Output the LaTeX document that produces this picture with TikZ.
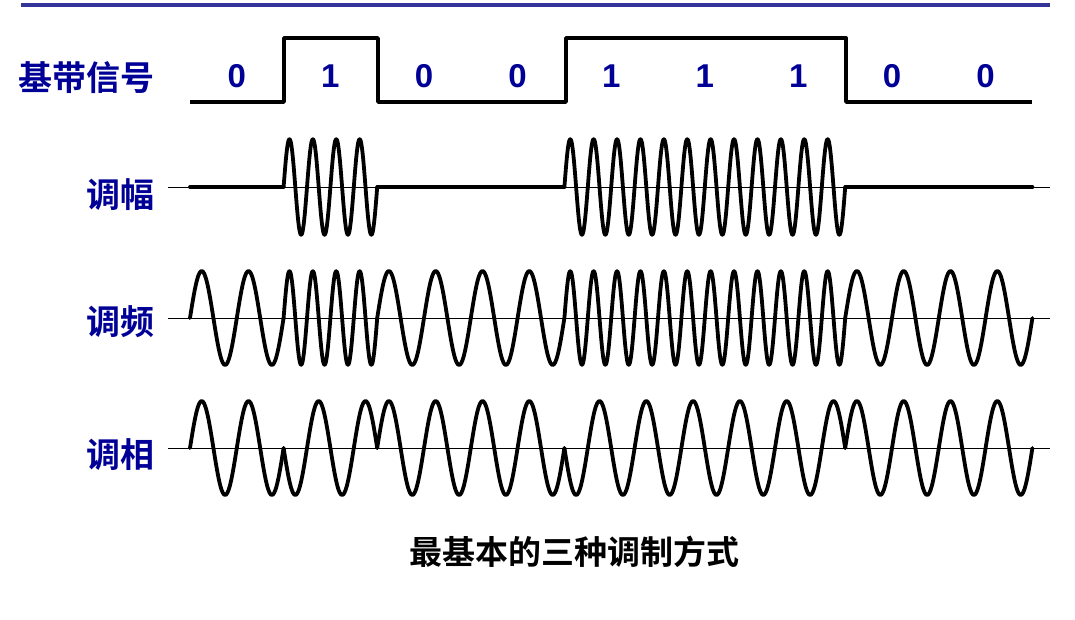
\documentclass[tikz,border=0pt]{standalone}
\usepackage{fontspec}
\setmainfont{Liberation Sans}
\newfontfamily\cjk{Noto Sans CJK SC}[BoldFont={Noto Sans CJK SC Bold}]
\definecolor{lblue}{RGB}{0,0,150}
\definecolor{topblue}{RGB}{51,51,153}
\begin{document}
\begin{tikzpicture}[x=1pt,y=-1pt,
  wave/.style={line width=3.8pt,line join=round,line cap=round},
  axisline/.style={line width=0.8pt},
  lbl/.style={text=lblue,font=\cjk\bfseries\fontsize{34}{34}\selectfont,anchor=east,inner sep=0},
  bit/.style={text=lblue,font=\bfseries\fontsize{33}{33}\selectfont,inner sep=0}]
\useasboundingbox (0,0) rectangle (1075,620);
\draw[topblue,line width=4pt] (21,5) -- (1050,5);
% labels
\node[lbl] (lb) at (155,78) {基带信号};
\node[lbl] (la) at (155,195) {调幅};
\node[lbl] (lf) at (155,322) {调频};
\node[lbl] (lp) at (155,455) {调相};
\node (cap) at (574,552) {\cjk\bfseries\fontsize{33}{33}\selectfont 最基本的三种调制方式};
% baselines
\foreach \y in {187,318,448} \draw[axisline] (168,\y) -- (1050,\y);
% bits
\def\w{93.6}
\foreach \b [count=\i from 0] in {0,1,0,0,1,1,1,0,0}{
  \pgfmathsetmacro\xa{190+\i*\w}
  \pgfmathsetmacro\xb{\xa+\w}
  \pgfmathsetmacro\xc{\xa+\w/2}
  \node[bit] (d\i) at (\xc,76) {\b};
  \ifnum\b=1
    \draw[wave] plot[domain=\xa:\xb,samples=121,smooth] (\x,{187-48*sin(1440*((\x-\xa)/\w))});
    \draw[wave] plot[domain=\xa:\xb,samples=121,smooth] (\x,{318-47*sin(1440*((\x-\xa)/\w))});
    \draw[wave] plot[domain=\xa:\xb,samples=81,smooth] (\x,{448+47*sin(720*((\x-\xa)/\w))});
  \else
    \draw[wave] (\xa,187) -- (\xb,187);
    \draw[wave] plot[domain=\xa:\xb,samples=81,smooth] (\x,{318-47*sin(720*((\x-\xa)/\w))});
    \draw[wave] plot[domain=\xa:\xb,samples=81,smooth] (\x,{448-47*sin(720*((\x-\xa)/\w))});
  \fi
}
% baseband
\draw[wave,line cap=butt] (190,102) -- (284,102) -- (284,38) -- (378,38) -- (378,102)
  -- (566,102) -- (566,38) -- (846,38) -- (846,102) -- (1032,102);
\end{tikzpicture}
\end{document}
